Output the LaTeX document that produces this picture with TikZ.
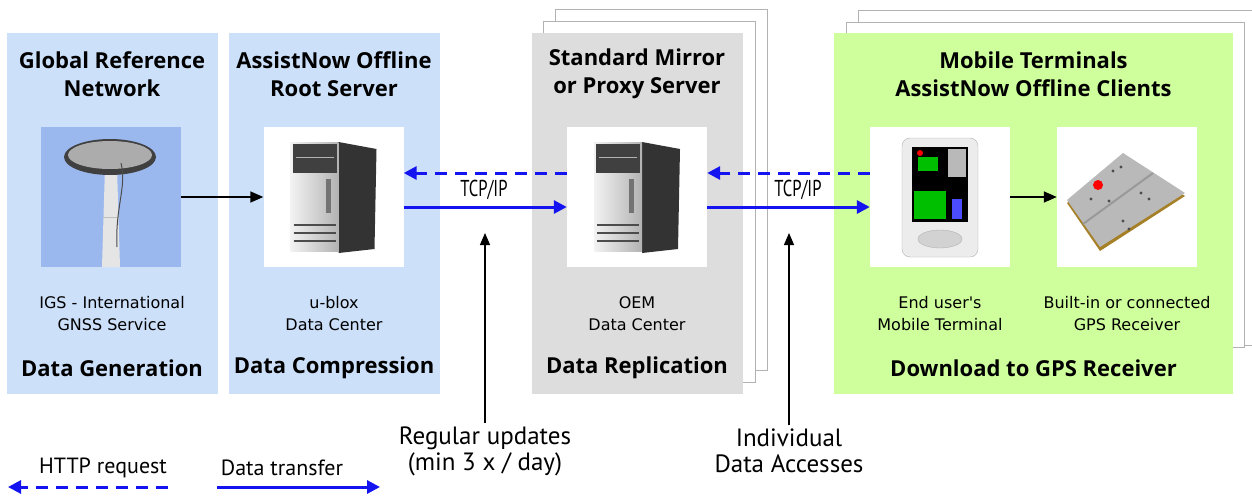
\documentclass[tikz,border=0pt]{standalone}
\usepackage{fontspec}
\setmainfont{Open Sans}
\newfontfamily\notefont{PT Sans}
\newfontfamily\capfont{DejaVu Sans}
\usetikzlibrary{arrows.meta,positioning}

\definecolor{refblue}{RGB}{204,224,250}
\definecolor{mirrorgray}{RGB}{221,221,221}
\definecolor{clientgreen}{RGB}{206,255,156}
\definecolor{skyblue}{RGB}{155,184,238}
\definecolor{linkblue}{RGB}{20,20,240}

\tikzset{
  panel/.style={draw=none, minimum width=211pt, minimum height=361pt, inner sep=0pt},
  page/.style={draw=gray!60, fill=white, line width=0.8pt},
  picbox/.style={fill=white, minimum width=140pt, minimum height=140pt, inner sep=0pt},
  title/.style={font=\bfseries\fontsize{22}{28}\selectfont, align=center},
  caption/.style={font=\capfont\fontsize{16}{22}\selectfont, align=center},
  phase/.style={font=\bfseries\fontsize{22}{25}\selectfont},
  proto/.style={font=\notefont\fontsize{23}{24}\selectfont, xscale=0.72, transform shape},
  note/.style={font=\notefont\fontsize{25}{26}\selectfont, align=center},
  legend/.style={font=\notefont\fontsize{22}{24}\selectfont},
  link/.style={linkblue, line width=3pt, -{Triangle[length=13pt,width=13pt]}},
  request/.style={link, dash pattern=on 12pt off 8pt},
  feed/.style={black, line width=1.5pt, -{Triangle[length=13pt,width=11pt]}},
  update/.style={black, line width=1.2pt, -{Triangle[length=12pt,width=10pt]}},
  % simple stand-ins for the photos
  tower/.pic={
    \fill[black!80] (5,-55) -- (43,-48) -- (41,52) -- (5,56) -- cycle;
    \fill[left color=gray!10, right color=gray!60] (-43,-55) rectangle (5,54);
    \fill[black!75] (-41,-53) rectangle (3,-24);
    \draw[gray!60] (-38,-40) -- (0,-40);
    \fill[black!55] (-8,-18) rectangle (-3,16);
    \foreach \v in {28,36,44}
      \draw[black!70, line width=1.5pt] (-40,\v) -- (2,\v);
  },
  antenna/.pic={
    \fill[gray!20] (-6,-30) -- (6,-30) -- (9,70) -- (-9,70) -- cycle;
    \draw[gray!50] (-8,20) -- (8,20);
    \fill[black!75] (-1,-40) ellipse [x radius=46, y radius=18];
    \fill[gray!65] (-1,-42) ellipse [x radius=42, y radius=14];
    \draw[black!70, line width=1pt] (10,-34) .. controls (16,-10) and (4,10) .. (6,50);
  },
  pda/.pic={
    \fill[gray!15, draw=gray!60, rounded corners=8pt] (-38,-59) rectangle (38,60);
    \fill[black] (-28,-50) rectangle (28,25);
    \fill[green!75!black] (-26,-6) rectangle (6,22);
    \fill[green!75!black] (-22,-40) rectangle (-2,-26);
    \fill[gray!55] (8,-48) rectangle (26,-20);
    \fill[blue!70] (12,2) rectangle (22,22);
    \fill[red] (-20,-44) circle [radius=3];
    \fill[gray!35, draw=gray!60] (0,42) ellipse [x radius=22, y radius=9];
  },
  gps/.pic={
    \fill[brown!60!olive] (-60,6) -- (-4,-41) -- (58,-1) -- (-27,54) -- cycle;
    \fill[gray!55] (-60,3) -- (-4,-44) -- (58,-4) -- (-27,50) -- cycle;
    \draw[gray!80, line width=2pt] (26,-24) -- (-44,27);
    \fill[red] (-29,-12) circle [radius=5];
    \foreach \p in {(-14,-26),(-6,-30),(-36,2),(-18,4),(14,-4),(22,2),(-4,24),(2,32)}
      \fill[black!70] \p circle [radius=1.6];
  }
}

\begin{document}
\begin{tikzpicture}[x=1pt, y=-1pt]
\useasboundingbox (0,0) rectangle (1252,498);

% stacked pages behind mirror and clients
\foreach \d in {24,12}
  \draw[page] (531+\d, 33-\d) rectangle (743+\d, 394-\d);
\draw[page] (858,10) rectangle (1262,345);
\draw[page] (846,22) rectangle (1244,347);

% panels
\node[panel, fill=refblue] (ref) at (112,213.5) {};
\node[panel, fill=refblue] (root) at (334,213.5) {};
\node[panel, fill=mirrorgray] (mirror) at (637,213.5) {};
\node[panel, fill=clientgreen, minimum width=399pt] (client) at (1033.5,213.5) {};

% picture boxes
\node[picbox, fill=skyblue] (ant) at (111,197) {};
\node[picbox] (srvA) at (333.5,197) {};
\node[picbox] (srvB) at (637,197) {};
\node[picbox] (term) at (940,197) {};
\node[picbox] (rcv) at (1127,197) {};
\pic at (ant) {antenna};
\pic at (srvA) {tower};
\pic at (srvB) {tower};
\pic at (term) {pda};
\pic at (rcv) {gps};

% titles
\node[title] at (112,74) {Global Reference\\Network};
\node[title] at (334,74) {AssistNow Offline\\Root Server};
\node[title] at (637,74) {Standard Mirror\\or Proxy Server};
\node[title] at (1033.5,74) {Mobile Terminals\\AssistNow Offline Clients};

% captions
\node[caption] at (112,314) {IGS - International\\GNSS Service};
\node[caption] at (334,314) {u-blox\\Data Center};
\node[caption] at (637,314) {OEM\\Data Center};
\node[caption] at (940,314) {End user's\\Mobile Terminal};
\node[caption] at (1127,314) {Built-in or connected\\GPS Receiver};

% phases
\node[phase] at (112,368) {Data Generation};
\node[phase] at (334,368) {Data Compression};
\node[phase] at (637,368) {Data Replication};
\node[phase] at (1033.5,368) {Download to GPS Receiver};

% connectors
\draw[feed] (ant) -- (srvA);
\draw[feed] (term) -- (rcv);
\draw[request] ([yshift=24pt]srvB.west) -- ([yshift=24pt]srvA.east);
\draw[link] ([yshift=-10pt]srvA.east) -- ([yshift=-10pt]srvB.west);
\draw[request] ([yshift=24pt]term.west) -- ([yshift=24pt]srvB.east);
\draw[link] ([yshift=-10pt]srvB.east) -- ([yshift=-10pt]term.west);
\node[proto] at (484,190) {TCP/IP};
\node[proto] at (798,190) {TCP/IP};

% update notes
\node[note] (upd) at (485,451) {Regular updates\\(min 3 x / day)};
\node[note] (acc) at (789,451) {Individual\\Data Accesses};
\coordinate (updTip) at (485,233);
\coordinate (accTip) at (789,233);
\draw[update] (upd.north) -- (upd.north |- updTip);
\draw[update] (acc.north) -- (acc.north |- accTip);

% legend
\node[legend] (http) at (103,468) {HTTP request};
\node[legend] (data) at (282,468) {Data transfer};
\coordinate (httpL) at (8,487);
\coordinate (httpR) at (168,487);
\coordinate (dataL) at (217,487);
\coordinate (dataR) at (380,487);
\draw[request] (httpR) -- (httpL);
\draw[link] (dataL) -- (dataR);
\end{tikzpicture}
\end{document}
